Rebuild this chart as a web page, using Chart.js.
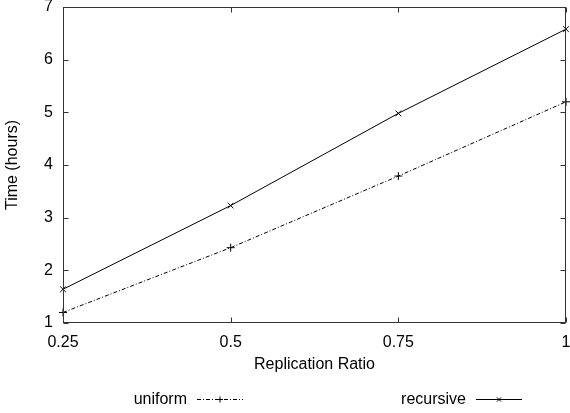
<!DOCTYPE html>
<html>
<head>
<meta charset="utf-8">
<script src="https://cdn.jsdelivr.net/npm/chart.js@4.4.1/dist/chart.umd.min.js"></script>
<style>
html, body { margin: 0; padding: 0; overflow: hidden; background: #fff; }
</style>
</head>
<body>
<canvas id="chart" width="571" height="413"></canvas>
<script>
// data
var ratios         = [0.25, 0.5, 0.75, 1];
var uniformHours   = [1.20, 2.43, 3.79, 5.20];
var recursiveHours = [1.64, 3.23, 4.98, 6.58];
var xTicks = [0.25, 0.5, 0.75, 1];
var yTicks = [1, 2, 3, 4, 5, 6, 7];

var FONT = "'Liberation Sans', Arial, Helvetica, sans-serif";
Chart.defaults.font.family = FONT;
Chart.defaults.font.size = 16;
Chart.defaults.color = '#000';

function pts(ys) {
    return ratios.map(function (x, i) { return { x: x, y: ys[i] }; });
}

// gnuplot style box with inward ticks on all four sides
var framePlugin = {
    id: 'frame',
    afterDatasetsDraw: function (chart) {
        var ctx = chart.ctx, a = chart.chartArea;
        var xs = chart.scales.x, ys = chart.scales.y;
        var L = Math.round(a.left) + 0.5, R = Math.round(a.right) - 0.5;
        var T = Math.round(a.top) + 0.5, B = Math.round(a.bottom) - 0.5;
        ctx.save();
        ctx.strokeStyle = '#333';
        ctx.lineWidth = 1;
        ctx.strokeRect(L, T, R - L, B - T);
        ctx.beginPath();
        xTicks.forEach(function (v) {
            var px = Math.round(xs.getPixelForValue(v)) + 0.5;
            ctx.moveTo(px, B); ctx.lineTo(px, B - 5);
            ctx.moveTo(px, T); ctx.lineTo(px, T + 5);
        });
        yTicks.forEach(function (v) {
            var py = Math.round(ys.getPixelForValue(v)) + 0.5;
            ctx.moveTo(L, py); ctx.lineTo(L + 5, py);
            ctx.moveTo(R, py); ctx.lineTo(R - 5, py);
        });
        ctx.stroke();
        ctx.restore();
    }
};

// legend under the axis title: label, then line sample with marker
var keyPlugin = {
    id: 'key',
    afterDraw: function (chart, args, opts) {
        var ctx = chart.ctx;
        ctx.save();
        ctx.font = '16px ' + FONT;
        ctx.fillStyle = '#000';
        ctx.textAlign = 'right';
        ctx.textBaseline = 'alphabetic';
        chart.data.datasets.forEach(function (ds, i) {
            var x = opts.textRight[i], y = opts.y;
            ctx.fillText(ds.label, x, y);
            var x0 = x + 10, x1 = x0 + 46, ly = y - 4.5;
            ctx.strokeStyle = ds.borderColor;
            ctx.lineWidth = 1;
            ctx.setLineDash(ds.borderDash || []);
            ctx.beginPath();
            ctx.moveTo(x0, ly); ctx.lineTo(x1, ly);
            ctx.stroke();
            ctx.setLineDash([]);
            Chart.helpers.drawPoint(ctx, { pointStyle: ds.pointStyle, radius: 3, rotation: 0, borderWidth: 1 }, (x0 + x1) / 2, ly);
        });
        ctx.restore();
    }
};

new Chart(document.getElementById('chart'), {
    type: 'line',
    data: {
        datasets: [
            {
                label: 'uniform',
                data: pts(uniformHours),
                borderColor: '#000',
                borderWidth: 1,
                borderDash: [4, 2, 1, 2],
                pointStyle: 'cross',
                pointRadius: 4,
                pointBorderColor: '#000',
                pointBorderWidth: 1,
                clip: false
            },
            {
                label: 'recursive',
                data: pts(recursiveHours),
                borderColor: '#000',
                borderWidth: 1,
                pointStyle: 'crossRot',
                pointRadius: 4,
                pointBorderColor: '#000',
                pointBorderWidth: 1,
                clip: false
            }
        ]
    },
    options: {
        responsive: false,
        animation: false,
        events: [],
        layout: { padding: { top: 7, right: 4, bottom: 39, left: 0 } },
        plugins: {
            legend: { display: false },
            tooltip: { enabled: false },
            key: { y: 404, textRight: [187, 466] }
        },
        scales: {
            x: {
                type: 'linear',
                min: 0.25,
                max: 1,
                afterBuildTicks: function (s) { s.ticks = xTicks.map(function (v) { return { value: v }; }); },
                afterFit: function (s) { s.height = 51; s.paddingLeft = 0; s.paddingRight = 0; },
                grid: { display: false, drawTicks: false },
                border: { display: false },
                ticks: { padding: 10, maxRotation: 0, callback: function (v) { return String(v); } },
                title: { display: true, text: 'Replication Ratio', padding: { top: 0, bottom: 0 } }
            },
            y: {
                min: 1,
                max: 7,
                afterBuildTicks: function (s) { s.ticks = yTicks.map(function (v) { return { value: v }; }); },
                afterFit: function (s) { s.width = 63; s.paddingTop = 0; s.paddingBottom = 0; },
                grid: { display: false, drawTicks: false },
                border: { display: false },
                ticks: { padding: 10, callback: function (v) { return String(v); } },
                title: { display: true, text: 'Time (hours)', padding: { top: 3, bottom: 0 } }
            }
        }
    },
    plugins: [framePlugin, keyPlugin]
});
</script>
</body>
</html>
